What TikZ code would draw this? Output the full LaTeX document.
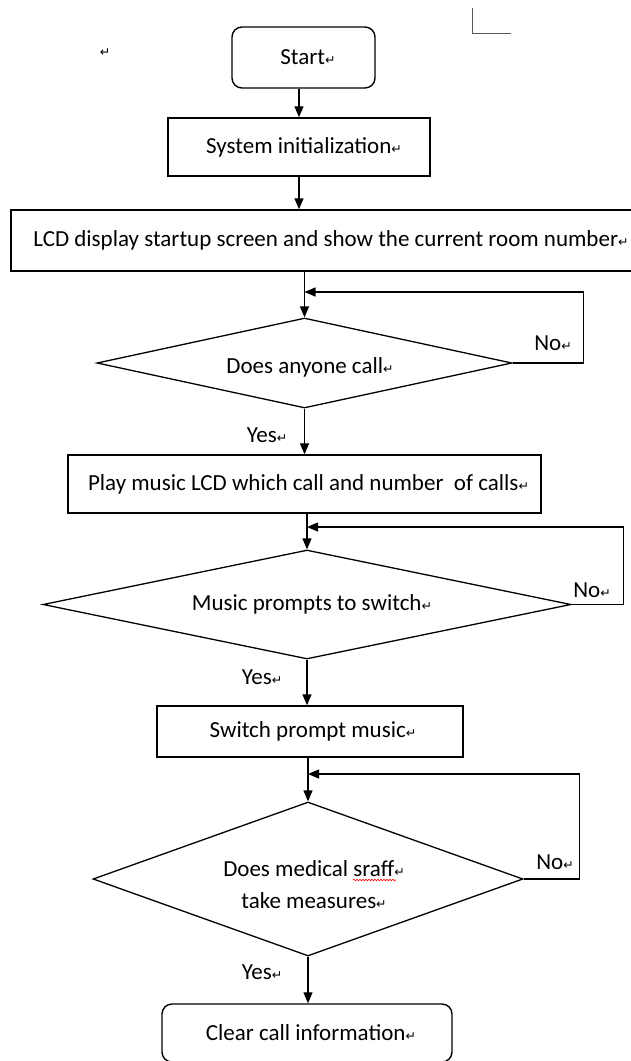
\documentclass[tikz,border=0pt]{standalone}
\usepackage{fontspec}
\setmainfont{Carlito}
\newfontfamily\symf{DejaVu Sans}
\usetikzlibrary{shapes.geometric,arrows.meta,decorations.pathmorphing}
\newcommand\ret{{\symf\fontsize{12.5}{12.5}\selectfont ↵}}
\begin{document}
\begin{tikzpicture}[x=1pt,y=-1pt,
  font=\fontsize{23}{27}\selectfont,
  procbox/.style={draw, line width=1.4pt, inner sep=0pt},
  rbox/.style={procbox, rounded corners=10pt},
  dia/.style={draw, diamond, line width=1.3pt, inner sep=0pt},
  arr/.style={line width=1.3pt, -{Triangle[length=11pt,width=9pt]}},
  lbl/.style={inner sep=0pt}]
\clip (0,0) rectangle (631,1061);
% stray marks
\draw[gray!70!black, line width=1pt] (472,8) -- (472,33) -- (511,33);
\node[lbl] (mark) at (105,53) {\ret};
% boxes
\node[rbox, minimum width=143, minimum height=61] (start) at (303.5,57.5) {\hspace{9pt}Start\ret};
\node[procbox, minimum width=262, minimum height=58] (sys) at (299,147) {\hspace{10pt}System initialization\ret};
\node[procbox, minimum width=640, minimum height=61] (lcd) at (331,240.5) {LCD display startup screen and show the current room number\ret};
\node[procbox, minimum width=473, minimum height=58] (p3) at (304.5,484) {\hspace{8pt}Play music LCD which call and number~ of calls\ret};
\node[procbox, minimum width=306, minimum height=51] (p4) at (310,731.5) {\hspace{6pt}Switch prompt music\ret};
\node[rbox, minimum width=290, minimum height=58] (clr) at (307,1033) {\hspace{8pt}Clear call information\ret};
% decisions
\node[dia, aspect=4.61, minimum width=415, minimum height=90] (d1) at (304.5,363) {};
\node[lbl] (d1t) at (310,367) {Does anyone call\ret};
\node[dia, aspect=4.84, minimum width=528, minimum height=109] (d2) at (307,604.5) {};
\node[lbl] (d2t) at (312,604) {Music prompts to switch\ret};
\node[dia, aspect=2.79, minimum width=430, minimum height=154] (d3) at (308,879) {};
\node[lbl, align=center, font=\fontsize{23}{32}\selectfont] (d3t) at (314,885) {Does medical sraff\ret\\take measures\ret};
% labels
\node[lbl] (no1) at (553,343) {No\ret};
\node[lbl] (no2) at (592,590) {No\ret};
\node[lbl] (no3) at (555,862) {No\ret};
\node[lbl] (yes1) at (267,435) {Yes\ret};
\node[lbl] (yes2) at (262,677) {Yes\ret};
\node[lbl] (yes3) at (262,972) {Yes\ret};
% spell-check squiggle
\draw[red, line width=0.6pt, decorate, decoration={snake, amplitude=0.8pt, segment length=3pt}] (353,880) -- (396,880);
% junctions
\coordinate (j1) at (d1.north |- 0,292);
\coordinate (j2) at (d2.north |- 0,527);
\coordinate (j3) at (d3.north |- 0,774);
% connectors
\draw[arr] (start.south -| sys.north) -- (sys.north);
\draw[arr] (sys.south) -- (sys.south |- lcd.north);
\draw[arr] (lcd.south -| d1.north) -- (d1.north);
\draw[arr] (d1.east) -- ++(71,0) |- (j1);
\draw[arr] (d1.south) -- (d1.south |- p3.north);
\draw[arr] (p3.south -| d2.north) -- (d2.north);
\draw[arr] (d2.east) -- ++(52,0) |- (j2);
\draw[arr] (d2.south) -- (d2.south |- p4.north);
\draw[arr] (p4.south -| d3.north) -- (d3.north);
\draw[arr] (d3.east) -- ++(56,0) |- (j3);
\draw[arr] (d3.south) -- (d3.south |- clr.north);
\end{tikzpicture}
\end{document}
